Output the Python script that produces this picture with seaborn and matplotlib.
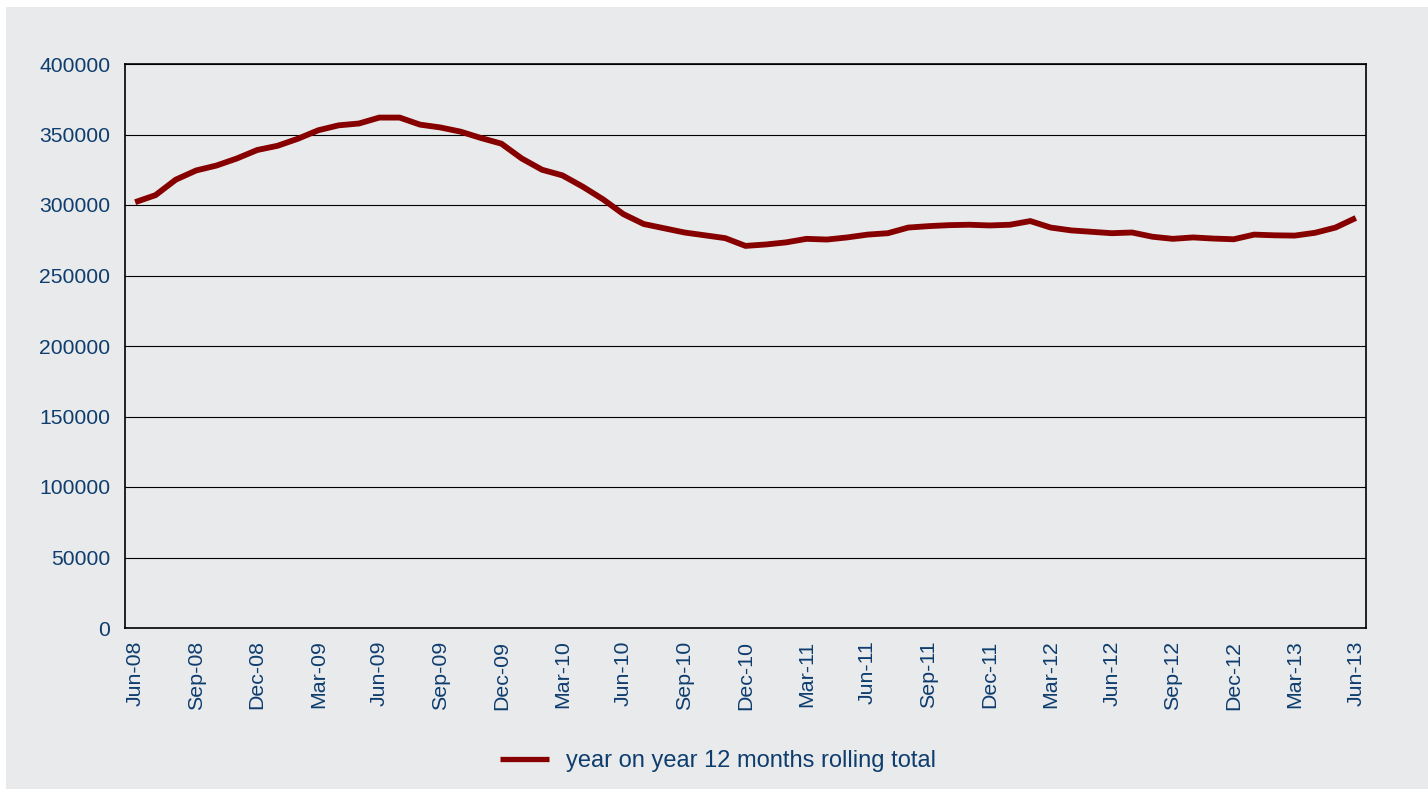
import matplotlib
matplotlib.use("Agg")
import matplotlib.pyplot as plt
import seaborn as sns
import pandas as pd
from matplotlib.patches import Rectangle

months = ["Jun-08", "Jul-08", "Aug-08", "Sep-08", "Oct-08", "Nov-08", "Dec-08", "Jan-09", "Feb-09",
          "Mar-09", "Apr-09", "May-09", "Jun-09", "Jul-09", "Aug-09", "Sep-09", "Oct-09", "Nov-09",
          "Dec-09", "Jan-10", "Feb-10", "Mar-10", "Apr-10", "May-10", "Jun-10", "Jul-10", "Aug-10",
          "Sep-10", "Oct-10", "Nov-10", "Dec-10", "Jan-11", "Feb-11", "Mar-11", "Apr-11", "May-11",
          "Jun-11", "Jul-11", "Aug-11", "Sep-11", "Oct-11", "Nov-11", "Dec-11", "Jan-12", "Feb-12",
          "Mar-12", "Apr-12", "May-12", "Jun-12", "Jul-12", "Aug-12", "Sep-12", "Oct-12", "Nov-12",
          "Dec-12", "Jan-13", "Feb-13", "Mar-13", "Apr-13", "May-13", "Jun-13"]

rolling_total = [302000, 307000, 318000, 324500, 328000, 333000, 339000, 342000, 347000,
                 353000, 356500, 357800, 362000, 362000, 357000, 355000, 352000, 347500,
                 343500, 333000, 325000, 321000, 313000, 304000, 293500, 286500, 283500,
                 280500, 278500, 276500, 271000, 272000, 273500, 276000, 275500, 277000,
                 279000, 280000, 284000, 285000, 285700, 286000, 285500, 286000, 288600,
                 284000, 282000, 281000, 280000, 280500, 277500, 276000, 277000, 276200,
                 275700, 279000, 278500, 278300, 280300, 284000, 290800]

series_label = "year on year 12 months rolling total"

yticks = [0, 50000, 100000, 150000, 200000, 250000, 300000, 350000, 400000]

df = pd.DataFrame({"idx": range(len(months)), "value": rolling_total, "series": series_label})

sns.set_theme(style="white")
plt.rcParams["font.family"] = ["Liberation Sans", "DejaVu Sans"]

bg = "#e9eaec"
txt = "#0e3d6e"
line_color = "#870000"

fig = plt.figure(figsize=(14.28, 7.89), dpi=100, facecolor="white")
fig.patches.append(Rectangle((6 / 1428, 0.0), 1.0, 1 - 7 / 789, transform=fig.transFigure,
                             facecolor=bg, edgecolor="none", zorder=-10))

ax = fig.add_axes([125 / 1428, 1 - 628 / 789, (1366 - 125) / 1428, (628 - 64) / 789])
ax.set_facecolor(bg)

sns.lineplot(data=df, x="idx", y="value", hue="series", palette=[line_color],
             linewidth=4.2, ax=ax, legend=False)
for ln in ax.get_lines():
    ln.set_solid_capstyle("butt")
    ln.set_solid_joinstyle("miter")

ax.set_xlim(-0.5, len(months) - 0.5)
ax.set_ylim(0, 400000)
ax.set_yticks(yticks)
ax.set_yticklabels([str(v) for v in yticks], color=txt, fontsize=15.2)
tick_pos = list(range(0, len(months), 3))
ax.set_xticks(tick_pos)
ax.set_xticklabels([months[i] for i in tick_pos], rotation=90, color=txt, fontsize=15.4)
ax.tick_params(axis="y", length=0, pad=10.5)
ax.tick_params(axis="x", length=0, pad=9)
ax.set_xlabel("")
ax.set_ylabel("")
ax.grid(axis="y", color="black", linewidth=0.8)
ax.set_axisbelow(True)
for s in ax.spines.values():
    s.set_visible(True)
    s.set_color("black")
    s.set_linewidth(1.2)

handle = plt.Line2D([0], [0], color=line_color, linewidth=3.8, solid_capstyle="butt")
leg = fig.legend([handle], [series_label], loc="center", bbox_to_anchor=(0.503, 0.035),
                 frameon=False, fontsize=17, handlelength=2.05, handletextpad=0.75)
for t in leg.get_texts():
    t.set_color(txt)

fig.savefig("out.png", dpi=100, facecolor="white")
